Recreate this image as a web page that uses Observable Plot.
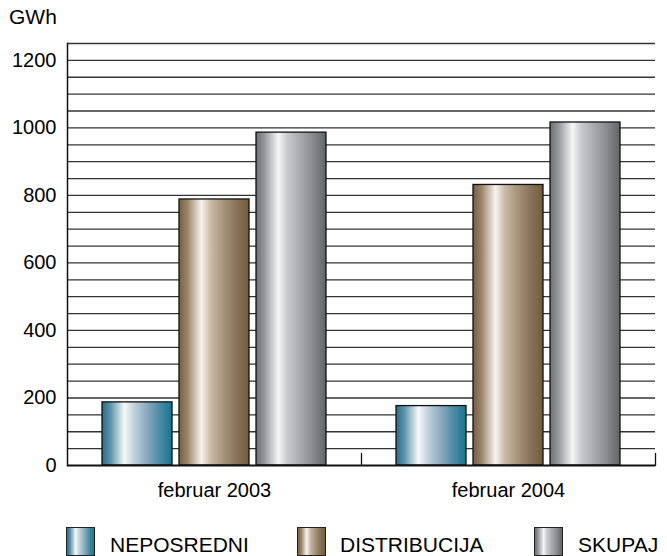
<!DOCTYPE html>
<html>
<head>
<meta charset="utf-8">
<script src="https://cdn.jsdelivr.net/npm/d3@7"></script>
<script src="https://cdn.jsdelivr.net/npm/@observablehq/plot@0.6"></script>
<style>
  html, body { margin: 0; padding: 0; background: #fff; overflow: hidden; }
  #wrap { position: relative; width: 667px; height: 556px; font-family: "Liberation Sans", Arial, Helvetica, sans-serif; color: #000; }
  #unit { position: absolute; left: 9px; top: 7px; font-size: 21px; line-height: 20px; }
  #chart { position: absolute; left: 0; top: 0; }
  .sw { position: absolute; top: 527px; width: 29px; height: 29px; border: 1px solid #222; box-sizing: border-box; }
  .lt { position: absolute; top: 535px; font-size: 21px; line-height: 20px; }
</style>
</head>
<body>
<svg width="0" height="0" style="position:absolute">
  <defs>
    <linearGradient id="g0" x1="0" x2="1" y1="0" y2="0">
      <stop offset="0" stop-color="#2a6c86"/>
      <stop offset="0.12" stop-color="#5e93aa"/>
      <stop offset="0.32" stop-color="#f6f8fa"/>
      <stop offset="0.45" stop-color="#c2d3de"/>
      <stop offset="0.62" stop-color="#91afc0"/>
      <stop offset="0.82" stop-color="#4d8ba5"/>
      <stop offset="1" stop-color="#14768f"/>
    </linearGradient>
    <linearGradient id="g1" x1="0" x2="1" y1="0" y2="0">
      <stop offset="0" stop-color="#765f45"/>
      <stop offset="0.12" stop-color="#9a8468"/>
      <stop offset="0.32" stop-color="#f7f3ee"/>
      <stop offset="0.45" stop-color="#cbbca8"/>
      <stop offset="0.62" stop-color="#a9967c"/>
      <stop offset="0.82" stop-color="#89735a"/>
      <stop offset="1" stop-color="#735b3c"/>
    </linearGradient>
    <linearGradient id="g2" x1="0" x2="1" y1="0" y2="0">
      <stop offset="0" stop-color="#6e6f73"/>
      <stop offset="0.12" stop-color="#96979b"/>
      <stop offset="0.32" stop-color="#f6f6f7"/>
      <stop offset="0.45" stop-color="#c8c9cc"/>
      <stop offset="0.62" stop-color="#aaabaf"/>
      <stop offset="0.82" stop-color="#88898d"/>
      <stop offset="1" stop-color="#636468"/>
    </linearGradient>
  </defs>
</svg>
<div id="wrap">
  <div id="chart"></div>
  <div id="unit">GWh</div>
</div>
<script>
const periods = ["februar 2003", "februar 2004"];
const series = ["NEPOSREDNI", "DISTRIBUCIJA", "SKUPAJ"];
const neposredni = [187, 176];
const distribucija = [788, 831];
const skupaj = [986, 1016];
const yTicks = [0, 200, 400, 600, 800, 1000, 1200];
const gridValues = d3.range(50, 1251, 50);
const fills = ["url(#g0)", "url(#g1)", "url(#g2)"];
const cssGrad = [
  "linear-gradient(to right,#2a6c86 0%,#5e93aa 12%,#f6f8fa 32%,#c2d3de 45%,#91afc0 62%,#4d8ba5 82%,#14768f 100%)",
  "linear-gradient(to right,#765f45 0%,#9a8468 12%,#f7f3ee 32%,#cbbca8 45%,#a9967c 62%,#89735a 82%,#735b3c 100%)",
  "linear-gradient(to right,#6e6f73 0%,#96979b 12%,#f6f6f7 32%,#c8c9cc 45%,#aaabaf 62%,#88898d 82%,#636468 100%)"
];

const seriesValues = [neposredni, distribucija, skupaj];
const data = [];
periods.forEach((p, i) => series.forEach((s, j) => data.push({period: p, series: s, value: seriesValues[j][i]})));

const chart = Plot.plot({
  width: 667,
  height: 500,
  marginTop: 43,
  marginBottom: 35,
  marginLeft: 67,
  marginRight: 12,
  style: {fontFamily: "'Liberation Sans', Arial, Helvetica, sans-serif", fontSize: "20px", color: "#000", background: "transparent"},
  fx: {domain: periods, padding: 0, label: null, axis: "bottom", tickSize: 0, tickPadding: 17},
  x: {domain: series, paddingInner: 0.09, paddingOuter: 0.43, axis: null},
  y: {domain: [0, 1250], ticks: yTicks, tickSize: 0, tickPadding: 11, label: null, tickFormat: d => String(d)},
  color: {domain: series, range: fills},
  marks: [
    Plot.ruleY(gridValues, {stroke: "#333", strokeWidth: 1.3}),
    Plot.barY(data, {fx: "period", x: "series", y: "value", fill: "series", stroke: "#111", strokeWidth: 1.3}),
    Plot.ruleY([0], {stroke: "#111", strokeWidth: 2}),
    Plot.frame({anchor: "right", insetTop: 410, stroke: "#111", strokeWidth: 1.3}),
    Plot.frame({anchor: "left", facet: "super", stroke: "#111", strokeWidth: 1.5})
  ]
});
document.getElementById("chart").appendChild(chart);

const wrap = document.getElementById("wrap");
const swLeft = [66, 297, 534];
const txLeft = [110, 340, 578];
series.forEach((s, j) => {
  const sw = document.createElement("div");
  sw.className = "sw";
  sw.style.left = swLeft[j] + "px";
  sw.style.background = cssGrad[j];
  wrap.appendChild(sw);
  const t = document.createElement("div");
  t.className = "lt";
  t.style.left = txLeft[j] + "px";
  t.textContent = s;
  wrap.appendChild(t);
});
</script>
</body>
</html>
